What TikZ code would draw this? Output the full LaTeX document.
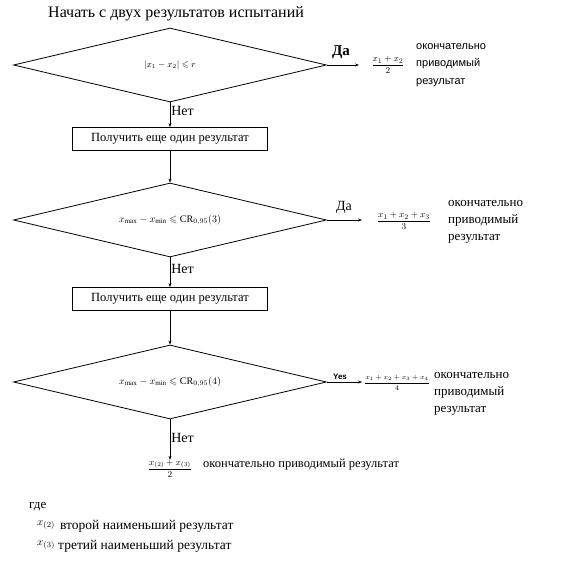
\documentclass[tikz,border=0pt]{standalone}
\usepackage{fontspec}
\usepackage{amsmath,amssymb}
\setmainfont{Liberation Serif}
\newfontfamily\arialf{Liberation Sans}
\usetikzlibrary{shapes.geometric,arrows.meta}
\begin{document}
\begin{tikzpicture}[x=1pt,y=-1pt,
  dia/.style={draw,diamond,aspect=4.23,minimum width=313pt,minimum height=74pt,inner sep=0pt,line width=0.8pt},
  boxn/.style={draw,minimum width=195pt,minimum height=23pt,inner sep=0pt,line width=0.8pt,font=\rmfamily\fontsize{12.5}{14}\selectfont},
  conn/.style={line width=0.6pt,-{Stealth[length=4pt,width=3pt]}},
  txt/.style={inner sep=0pt,font=\rmfamily\fontsize{13}{17}\selectfont,align=left},
  frac/.style={inner sep=0pt,font=\fontsize{9.5}{10}\selectfont},
  lbl/.style={inner sep=0pt,font=\rmfamily\fontsize{14}{15}\selectfont}]
\useasboundingbox (0,0) rectangle (576,562);
\node[txt,anchor=west,font=\rmfamily\fontsize{16}{17}\selectfont] (title) at (48,14) {Начать с двух результатов испытаний};
% decision 1
\node[dia] (d1) at (170,65) {\fontsize{9}{10}\selectfont $|x_1 - x_2| \leqslant r$};
\node[frac] (f1) at (388,65) {$\dfrac{x_1 + x_2}{2}$};
\node[txt,anchor=west,font=\arialf\fontsize{11}{17.5}\selectfont] (t1) at (416,65) {окончательно\\приводимый\\результат};
\coordinate (e1) at (359,65);
\draw[conn] (d1.east) -- (e1);
\node[lbl,font=\rmfamily\bfseries\fontsize{15}{16}\selectfont] (y1) at (341,52) {Да};
% box 1
\node[boxn] (b1) at (170,139) {Получить еще один результат};
\draw[conn] (d1.south) -- node[lbl,right,pos=0.33,xshift=1pt] (n1) {Нет} (b1.north);
% decision 2
\node[dia] (d2) at (170,220) {\fontsize{10}{11}\selectfont $x_{\max} - x_{\min} \leqslant \mathrm{CR}_{0{,}95}(3)$};
\draw[conn] (b1.south) -- (d2.north);
\node[frac] (f2) at (404,221) {$\dfrac{x_1 + x_2 + x_3}{3}$};
\node[txt,anchor=west] (t2) at (448,222) {окончательно\\приводимый\\результат};
\coordinate (e2) at (362,220);
\draw[conn] (d2.east) -- (e2);
\node[lbl] (y2) at (344,207) {Да};
% box 2
\node[boxn] (b2) at (170,299) {Получить еще один результат};
\draw[conn] (d2.south) -- node[lbl,right,pos=0.4,xshift=1pt] (n2) {Нет} (b2.north);
% decision 3
\node[dia] (d3) at (170,382) {\fontsize{10}{11}\selectfont $x_{\max} - x_{\min} \leqslant \mathrm{CR}_{0{,}95}(4)$};
\draw[conn] (b2.south) -- (d3.north);
\node[frac,font=\fontsize{7.5}{8}\selectfont] (f3) at (397,383) {$\dfrac{x_1 + x_2 + x_3 + x_4}{4}$};
\node[txt,anchor=west] (t3) at (434,394) {окончательно\\приводимый\\результат};
\coordinate (e3) at (362,382);
\draw[conn] (d3.east) -- (e3);
\node[lbl,font=\arialf\bfseries\fontsize{8}{9}\selectfont] (y3) at (340,377) {Yes};
% final
\node[frac,font=\fontsize{9}{10}\selectfont] (f4) at (170,469) {$\dfrac{x_{(2)} + x_{(3)}}{2}$};
\draw[conn] (d3.south) -- node[lbl,right,pos=0.45,xshift=1pt] (n3) {Нет} (f4.north);
\node[txt,anchor=west,font=\rmfamily\fontsize{12.5}{14}\selectfont] (t4) at (203,465) {окончательно приводимый результат};
% legend
\node[txt,anchor=west] (gde) at (29,507) {где};
\node[frac,anchor=west,font=\fontsize{11}{12}\selectfont] (l1) at (37,525) {$x_{(2)}$};
\node[txt,anchor=west,font=\rmfamily\fontsize{13.5}{15}\selectfont] (l1t) at (60,526) {второй наименьший результат};
\node[frac,anchor=west,font=\fontsize{11}{12}\selectfont] (l2) at (37,545) {$x_{(3)}$};
\node[txt,anchor=west,font=\rmfamily\fontsize{13.5}{15}\selectfont] (l2t) at (58,546) {третий наименьший результат};
\end{tikzpicture}
\end{document}
